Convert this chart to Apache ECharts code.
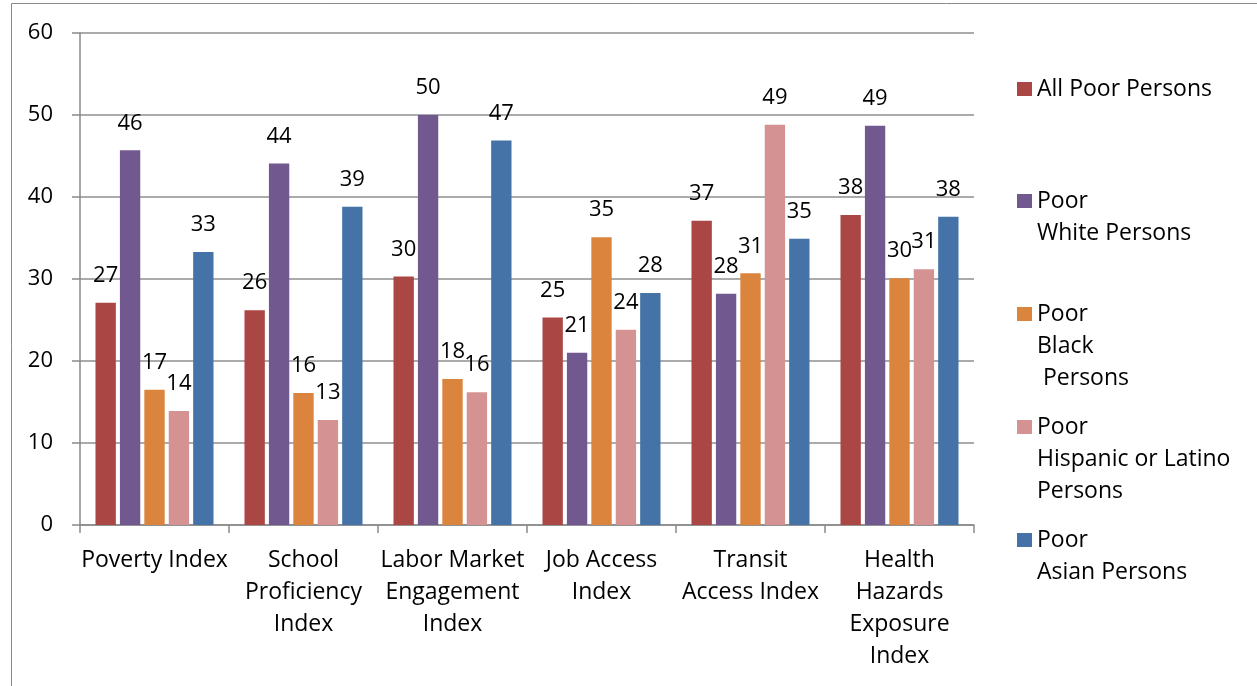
<!DOCTYPE html>
<html>
<head>
<meta charset="utf-8">
<script src="https://cdn.jsdelivr.net/npm/echarts@6/dist/echarts.min.js"></script>
<style>
  html, body { margin: 0; padding: 0; background: #fff; }
  #chart { width: 1257px; height: 686px; }
</style>
</head>
<body>
<div id="chart"></div>
<script>
// categories along the x axis
const categories = [
  "Poverty Index",
  "School\nProficiency\nIndex",
  "Labor Market\nEngagement\nIndex",
  "Job Access\nIndex",
  "Transit\nAccess Index",
  "Health\nHazards\nExposure\nIndex"
];

const seriesNames = [
  "All Poor Persons",
  "Poor\nWhite Persons",
  "Poor\nBlack\n Persons",
  "Poor\nHispanic or Latino\nPersons",
  "Poor\nAsian Persons"
];

// values
const allPoor = [27.1, 26.2, 30.3, 25.3, 37.1, 37.8];
const poorWhite = [45.7, 44.1, 50.0, 21.0, 28.2, 48.7];
const poorBlack = [16.5, 16.1, 17.8, 35.1, 30.7, 30.1];
const poorHispanic = [13.9, 12.8, 16.2, 23.8, 48.8, 31.2];
const poorAsian = [33.3, 38.8, 46.9, 28.3, 34.9, 37.6];

const seriesData = [allPoor, poorWhite, poorBlack, poorHispanic, poorAsian];
const colors = ["#AA4643", "#71588F", "#DB843D", "#D49392", "#4572A7"];

const FONT = "Open Sans";
const FS = 22;      // numbers
const FS_TEXT = 23; // words
const LINE = 32;

const chart = echarts.init(document.getElementById("chart"));

// one legend block per entry so the entries sit at even steps, icon next to the first line
const legendFirstLines = [89, 201, 314, 427, 540];
const legends = seriesNames.map((name, i) => {
  const n = name.split("\n").length;
  return {
    orient: "vertical",
    left: 1017,
    top: legendFirstLines[i] - ((2 * n - 1) * LINE) / 2,
    padding: 0,
    icon: "rect",
    itemWidth: 15,
    itemHeight: 14,
    selectedMode: false,
    data: [name],
    // blank lines on top push the first real line level with the icon
    formatter: (nm) => "\n".repeat(n - 1) + nm,
    textStyle: {
      fontFamily: FONT,
      fontSize: FS_TEXT,
      color: "#000",
      lineHeight: LINE
    }
  };
});

const option = {
  animation: false,
  color: colors,
  textStyle: { fontFamily: FONT },
  graphic: [{
    type: "rect",
    shape: { x: 11.5, y: 3.5, width: 1400, height: 1000 },
    style: { fill: "none", stroke: "#8a8a8a", lineWidth: 1 },
    silent: true
  }],
  legend: legends,
  grid: { left: 80, right: 283, top: 33, bottom: 161 },
  xAxis: {
    type: "category",
    data: categories,
    axisLine: { lineStyle: { color: "#8a8a8a", width: 1.5 } },
    axisTick: { show: true, length: 8, interval: 0, lineStyle: { color: "#8a8a8a", width: 1.5 } },
    axisLabel: {
      interval: 0,
      margin: 19,
      fontFamily: FONT,
      fontSize: FS_TEXT,
      lineHeight: LINE,
      color: "#000",
      align: "center"
    }
  },
  yAxis: {
    type: "value",
    min: 0,
    max: 60,
    interval: 10,
    axisLine: { show: true, lineStyle: { color: "#8a8a8a", width: 1.5 } },
    axisTick: { show: true, length: 8, lineStyle: { color: "#8a8a8a", width: 1.5 } },
    splitLine: { lineStyle: { color: "#8f8f8f", width: 1.5 } },
    axisLabel: {
      margin: 27,
      fontFamily: FONT,
      fontSize: FS,
      color: "#000"
    }
  },
  series: seriesNames.map((name, i) => ({
    name: name,
    type: "bar",
    data: seriesData[i],
    barGap: "20%",
    barCategoryGap: "20.8%",
    itemStyle: { color: colors[i] },
    label: {
      show: true,
      position: "top",
      distance: 15,
      fontFamily: FONT,
      fontSize: FS,
      lineHeight: 24,
      color: "#000",
      formatter: (p) => Math.round(p.value)
    }
  }))
};

chart.setOption(option);
</script>
</body>
</html>
